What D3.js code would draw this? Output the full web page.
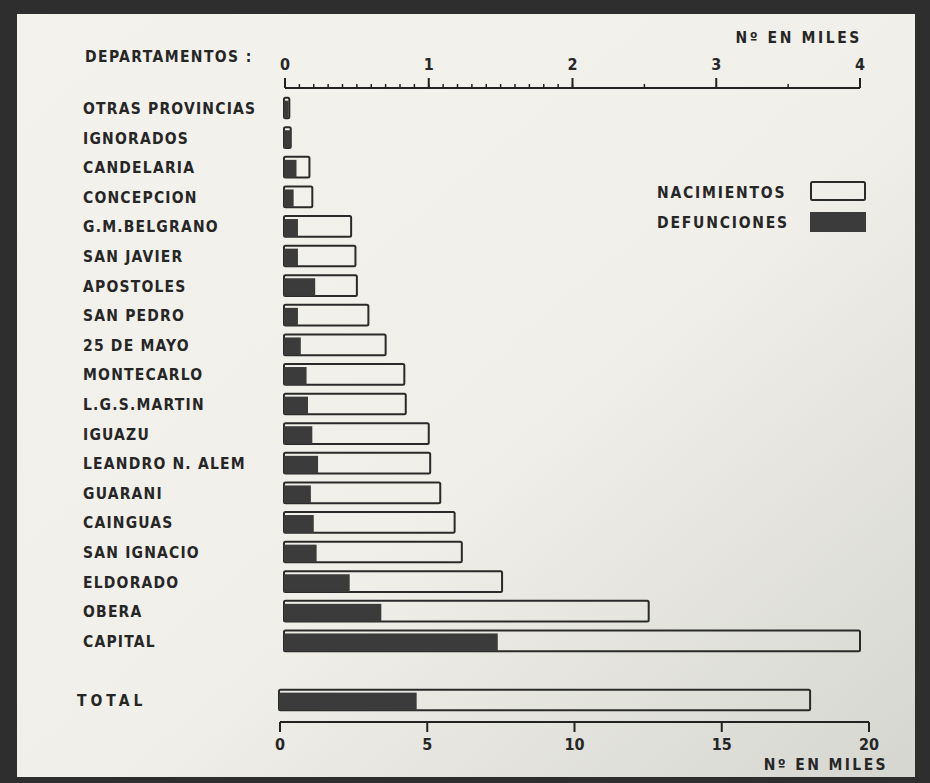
<!DOCTYPE html>
<html>
<head>
<meta charset="utf-8">
<script src="https://cdn.jsdelivr.net/npm/d3@7"></script>
<style>
  body { margin: 0; background: #2e2e2e; }
  text { font-family: 'DejaVu Sans Condensed', 'DejaVu Sans', sans-serif; font-weight: bold; fill: #262626; }
  .lbl { font-size: 15.5px; letter-spacing: 1.2px; }
  .tick { font-size: 16px; }
</style>
</head>
<body>
<div id="d3-container"></div>
<script>
// values in thousands
const departamentos = ['OTRAS PROVINCIAS', 'IGNORADOS', 'CANDELARIA', 'CONCEPCION', 'G.M.BELGRANO',
  'SAN JAVIER', 'APOSTOLES', 'SAN PEDRO', '25 DE MAYO', 'MONTECARLO', 'L.G.S.MARTIN', 'IGUAZU',
  'LEANDRO N. ALEM', 'GUARANI', 'CAINGUAS', 'SAN IGNACIO', 'ELDORADO', 'OBERA', 'CAPITAL']
const nacimientos = [0.03, 0.04, 0.17, 0.19, 0.46, 0.49, 0.50, 0.58, 0.70, 0.83, 0.84, 1.00,
  1.01, 1.08, 1.18, 1.23, 1.51, 2.53, 4.00]
const defunciones = [0.025, 0.04, 0.08, 0.06, 0.09, 0.09, 0.21, 0.09, 0.11, 0.15, 0.16, 0.19,
  0.23, 0.18, 0.20, 0.22, 0.45, 0.67, 1.48]
const totalNacimientos = 18.0
const totalDefunciones = 4.64
const topTicks = [0, 1, 2, 3, 4]
const bottomTicks = [0, 5, 10, 15, 20]

const params = { width: 930, height: 783 }

const svg = d3.select('#d3-container')
  .append('svg')
  .attr('width', params.width)
  .attr('height', params.height)
  .style('display', 'block')

// paper
const defs = svg.append('defs')
const grad = defs.append('linearGradient').attr('id', 'paper')
  .attr('x1', 0).attr('y1', 0).attr('x2', 1).attr('y2', 1)
grad.append('stop').attr('offset', 0).attr('stop-color', '#f3f2ec')
grad.append('stop').attr('offset', 0.55).attr('stop-color', '#f0efe9')
grad.append('stop').attr('offset', 1).attr('stop-color', '#d6d6d0')
svg.append('rect').attr('x', 0).attr('y', 0).attr('width', params.width).attr('height', params.height).attr('fill', '#2e2e2e')
svg.append('rect').attr('x', 17).attr('y', 14).attr('width', 898).attr('height', 763).attr('fill', 'url(#paper)')

const rows = departamentos.map((d, i) => ({ name: d, nac: nacimientos[i], def: defunciones[i] }))

const y = d3.scaleBand()
  .domain([...departamentos, '_gap', 'TOTAL'])
  .range([93.2, 714.8])
  .paddingInner(0.3)
  .paddingOuter(0.15)

const xTop = d3.scaleLinear().domain([0, 4]).range([285, 860])
const xBot = d3.scaleLinear().domain([0, 20]).range([280, 869])

// top axis
const gTop = svg.append('g').attr('transform', 'translate(0, 88)')
gTop.append('line').attr('x1', xTop(0)).attr('x2', xTop(4)).attr('stroke', '#222').attr('stroke-width', 2)
const minorTop = d3.range(0, 2.001, 0.1).concat([2.5, 3.5])
gTop.selectAll('line.minor').data(minorTop).join('line')
  .attr('class', 'minor')
  .attr('x1', d => xTop(d)).attr('x2', d => xTop(d))
  .attr('y1', 0).attr('y2', -4)
  .attr('stroke', '#222').attr('stroke-width', 1.5)
gTop.selectAll('line.major').data(topTicks).join('line')
  .attr('class', 'major')
  .attr('x1', d => xTop(d)).attr('x2', d => xTop(d))
  .attr('y1', 0).attr('y2', -10)
  .attr('stroke', '#222').attr('stroke-width', 2)
gTop.selectAll('text').data(topTicks).join('text')
  .attr('class', 'tick')
  .attr('x', d => xTop(d)).attr('y', -18)
  .attr('text-anchor', 'middle')
  .text(d => d)

svg.append('text').attr('class', 'lbl').attr('x', 862).attr('y', 43)
  .attr('text-anchor', 'end').style('letter-spacing', '2.6px').text('Nº EN MILES')
svg.append('text').attr('class', 'lbl').attr('x', 85).attr('y', 62)
  .style('letter-spacing', '1.4px').text('DEPARTAMENTOS :')

// bottom axis
const gBot = svg.append('g').attr('transform', 'translate(0, 722)')
gBot.append('line').attr('x1', xBot(0)).attr('x2', xBot(20)).attr('stroke', '#222').attr('stroke-width', 2)
gBot.selectAll('line.major').data(bottomTicks).join('line')
  .attr('x1', d => xBot(d)).attr('x2', d => xBot(d))
  .attr('y1', 0).attr('y2', 10)
  .attr('stroke', '#222').attr('stroke-width', 2)
gBot.selectAll('text').data(bottomTicks).join('text')
  .attr('class', 'tick')
  .attr('x', d => xBot(d)).attr('y', 28)
  .attr('text-anchor', 'middle')
  .text(d => d)
svg.append('text').attr('class', 'lbl').attr('x', 888).attr('y', 770)
  .attr('text-anchor', 'end').style('letter-spacing', '2.4px').text('Nº EN MILES')

// category labels
svg.append('g').selectAll('text')
  .data([...departamentos, 'TOTAL'])
  .join('text')
  .attr('class', 'lbl')
  .attr('x', d => (d === 'TOTAL' ? 77 : 83))
  .attr('y', d => y(d) + y.bandwidth() / 2 + 6)
  .style('letter-spacing', d => (d === 'TOTAL' ? '4px' : null))
  .text(d => d)

// bars
function drawBar(g, x, name, nac, def) {
  g.append('rect')
    .attr('x', x(0) - 1)
    .attr('y', y(name))
    .attr('width', Math.max(x(nac) - x(0) + 1, 3))
    .attr('height', y.bandwidth())
    .attr('rx', 1.5)
    .attr('fill', 'none')
    .attr('stroke', '#2a2a2a')
    .attr('stroke-width', 2)
  g.append('rect')
    .attr('x', x(0) - 1)
    .attr('y', y(name) + 3)
    .attr('width', Math.max(x(def) - x(0) + 1, 3))
    .attr('height', y.bandwidth() - 3)
    .attr('fill', '#3b3b3b')
}

const bars = svg.append('g')
rows.forEach(r => drawBar(bars, xTop, r.name, r.nac, r.def))
drawBar(bars, xBot, 'TOTAL', totalNacimientos, totalDefunciones)

// legend
const legend = svg.append('g')
legend.append('text').attr('class', 'lbl').attr('x', 657).attr('y', 198).style('letter-spacing', '1.8px').text('NACIMIENTOS')
legend.append('text').attr('class', 'lbl').attr('x', 657).attr('y', 228).style('letter-spacing', '1.8px').text('DEFUNCIONES')
legend.append('rect').attr('x', 811).attr('y', 182).attr('width', 54).attr('height', 18)
  .attr('rx', 1.5).attr('fill', 'none').attr('stroke', '#2a2a2a').attr('stroke-width', 2)
legend.append('rect').attr('x', 810).attr('y', 212).attr('width', 56).attr('height', 20)
  .attr('fill', '#3b3b3b')
</script>
</body>
</html>
